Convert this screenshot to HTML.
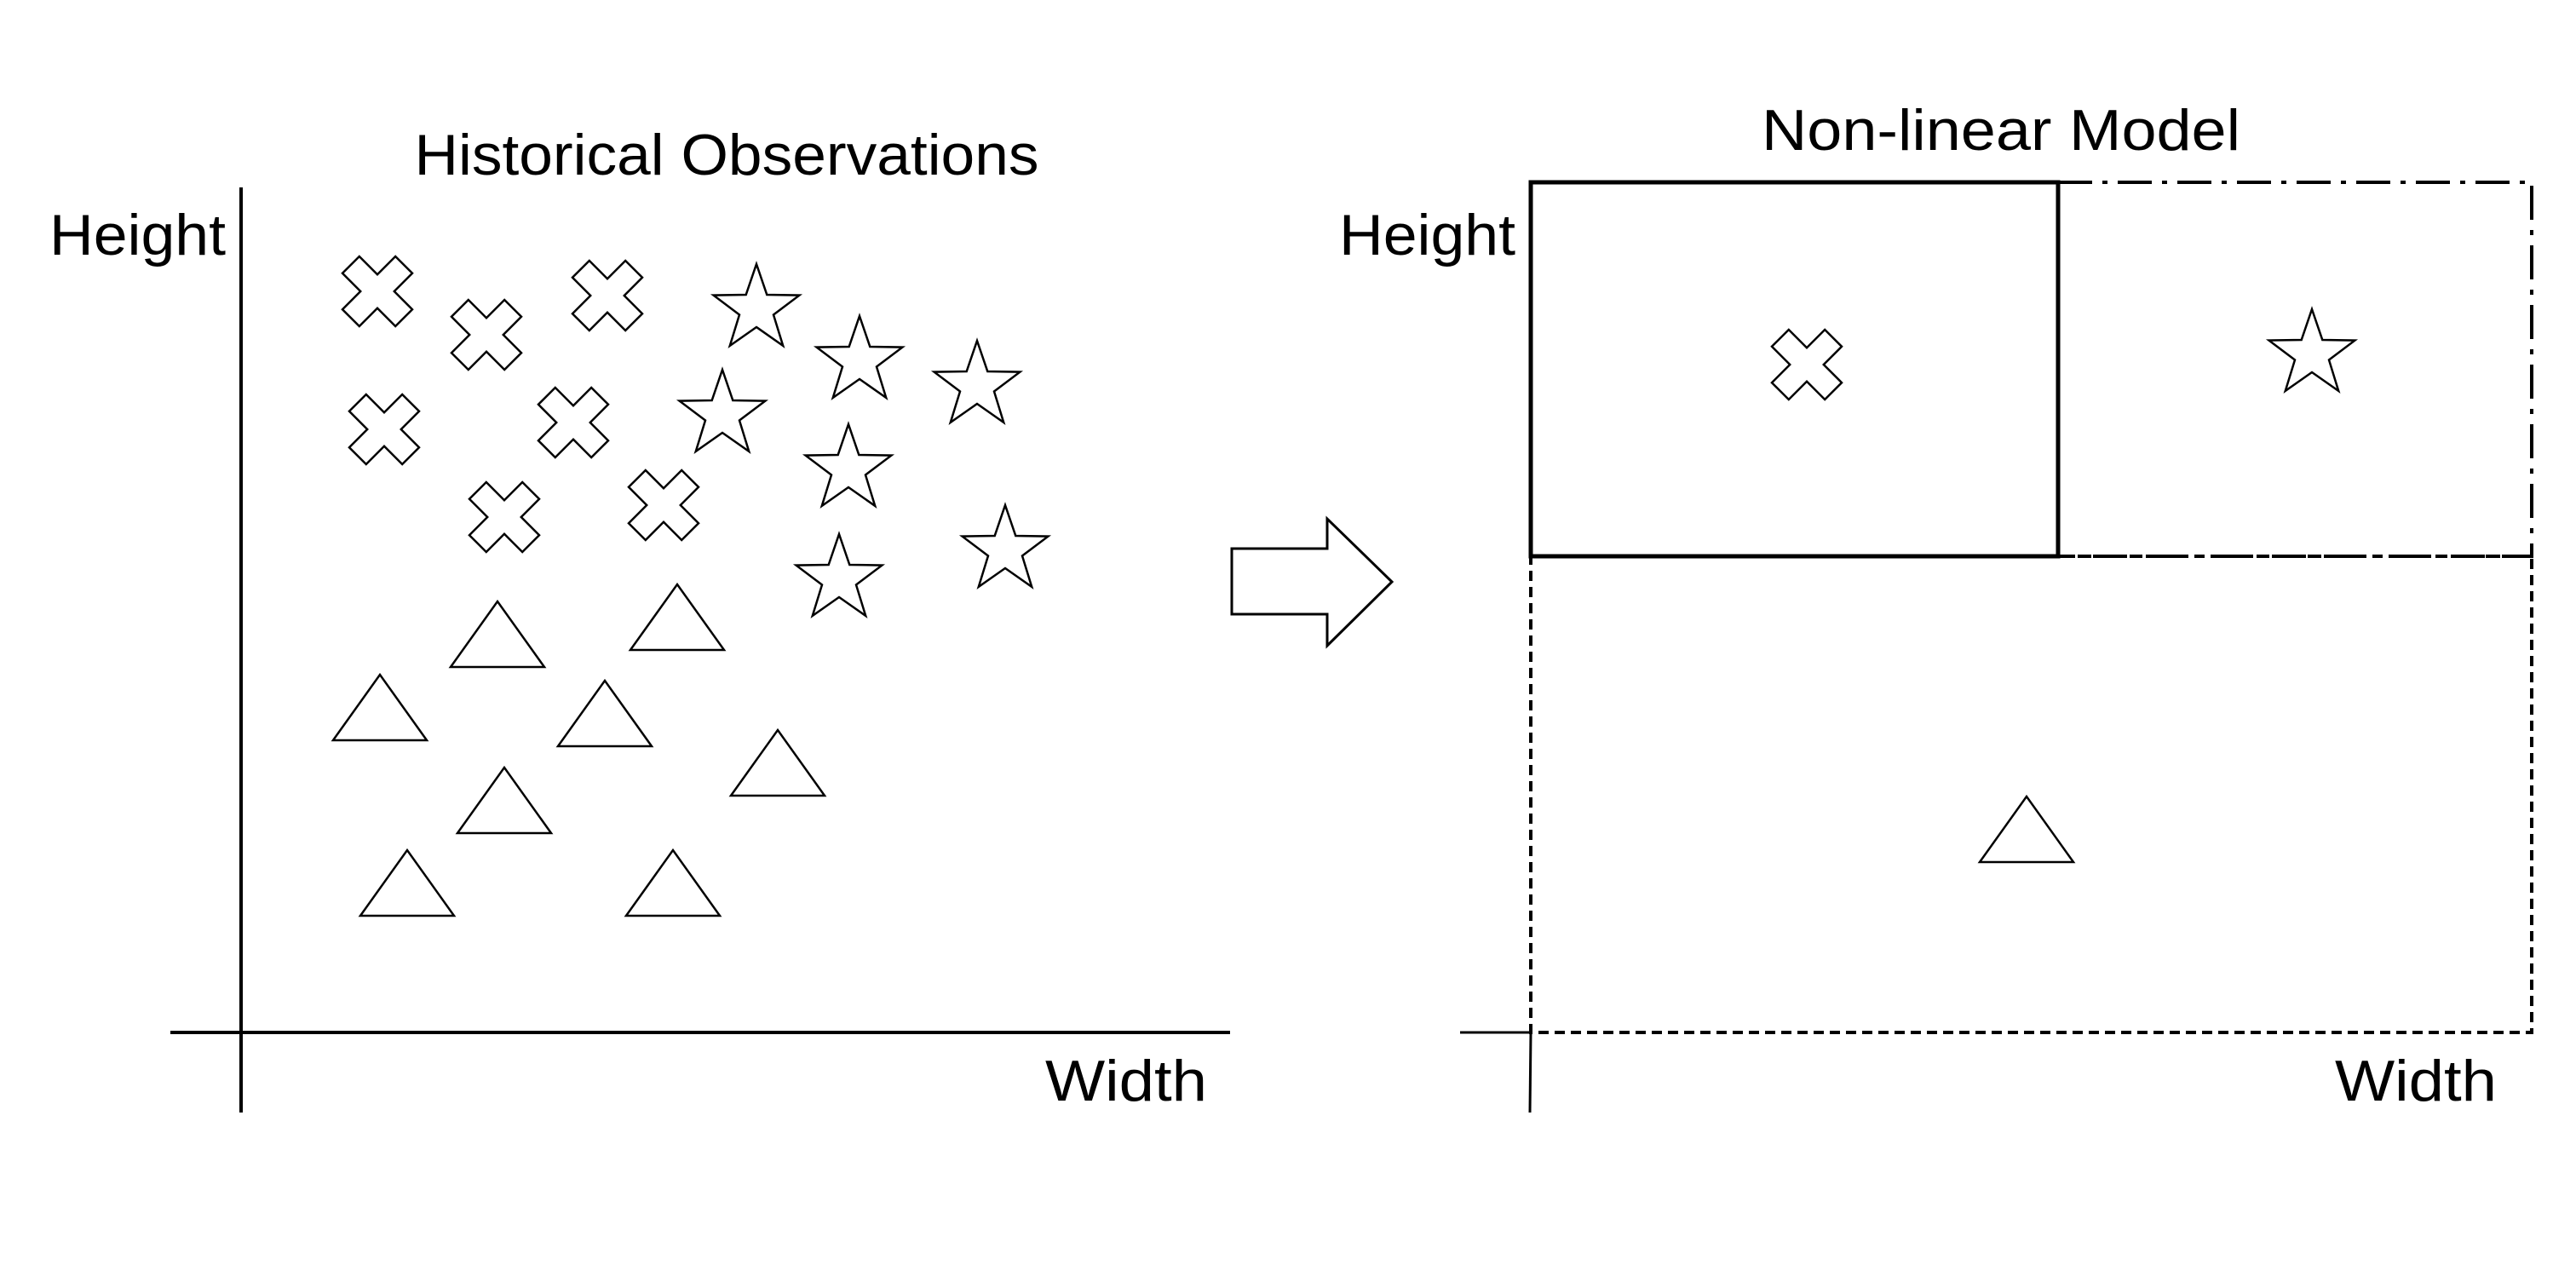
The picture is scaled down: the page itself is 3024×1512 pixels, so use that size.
<!DOCTYPE html>
<html><head><meta charset="utf-8"><style>
html,body{margin:0;padding:0;background:#fff}
svg{display:block}
text{font-family:"Liberation Sans",sans-serif;fill:#000}
</style></head><body>
<svg id="fig" width="3024" height="1512" viewBox="0 0 3024 1512" xmlns="http://www.w3.org/2000/svg">
<g>
<text x="853" y="205" font-size="68" text-anchor="middle" textLength="733" lengthAdjust="spacingAndGlyphs">Historical Observations</text>
<text x="58" y="299" font-size="68" textLength="207" lengthAdjust="spacingAndGlyphs">Height</text>
<text x="1227" y="1292" font-size="68" textLength="190" lengthAdjust="spacingAndGlyphs">Width</text>
<line x1="283" y1="220" x2="283" y2="1306" stroke="#000" stroke-width="4"/>
<line x1="200" y1="1212" x2="1444" y2="1212" stroke="#000" stroke-width="4"/>
<g id="marks"></g>
</g>
<polygon points="1446,644 1558,644 1558,609 1634,683 1558,758 1558,721 1446,721" fill="#fff" stroke="#000" stroke-width="3"/>
<g>
<text x="2349" y="176" font-size="68" text-anchor="middle" textLength="562" lengthAdjust="spacingAndGlyphs">Non-linear Model</text>
<text x="1572" y="299" font-size="68" textLength="207" lengthAdjust="spacingAndGlyphs">Height</text>
<text x="2741" y="1292" font-size="68" textLength="190" lengthAdjust="spacingAndGlyphs">Width</text>
<line x1="1714" y1="1212" x2="1797" y2="1212" stroke="#000" stroke-width="3"/>
<line x1="1797" y1="1212" x2="1796" y2="1306" stroke="#000" stroke-width="3"/>
<rect x="1797" y="653" width="1175" height="559" fill="none" stroke="#000" stroke-width="4" stroke-dasharray="12,7"/>
<rect x="2416" y="214" width="556" height="439" fill="none" stroke="#000" stroke-width="4" stroke-dasharray="40,12,6,12"/>
<rect x="1797" y="214" width="619" height="439" fill="none" stroke="#000" stroke-width="5"/>
<g id="rmarks"></g>
</g>
</svg>
<script>
const crossX=[443,571,713,451,673,592,779];
const crossY=[342,393,347,504,496,607,593];
const starX=[888,1009,1147,848,996,985,1180];
const starY=[363,424,453,487,551,680,646];
const triX=[584,795,446,710,913,592,478,790];
const triY=[783,763,869,876,934,978,1075,1075];
const NS="http://www.w3.org/2000/svg";
function crossPts(cx,cy){const L=44,w=14,pts=[[w,w],[L,w],[L,-w],[w,-w],[w,-L],[-w,-L],[-w,-w],[-L,-w],[-L,w],[-w,w],[-w,L],[w,L]];const c=Math.SQRT1_2;return pts.map(p=>[(cx+(p[0]-p[1])*c).toFixed(1),(cy+(p[0]+p[1])*c).toFixed(1)].join(',')).join(' ');}
function starPts(cx,cy){const R=53,r=21,out=[];for(let i=0;i<10;i++){const a=-Math.PI/2+i*Math.PI/5,rr=i%2?r:R;out.push((cx+rr*Math.cos(a)).toFixed(1)+','+(cy+rr*Math.sin(a)).toFixed(1));}return out.join(' ');}
function triPts(cx,by){return `${cx-55},${by} ${cx+55},${by} ${cx},${by-77}`;}
function add(g,pts,name){const p=document.createElementNS(NS,'polygon');p.setAttribute('points',pts);p.setAttribute('fill','#fff');p.setAttribute('stroke','#000');p.setAttribute('stroke-width','2.5');


g.appendChild(p);}
const g=document.getElementById('marks');
crossX.forEach((x,i)=>add(g,crossPts(x,crossY[i]),'cross-point'));
starX.forEach((x,i)=>add(g,starPts(x,starY[i]),'star-point'));
triX.forEach((x,i)=>add(g,triPts(x,triY[i]),'triangle-point'));
const rg=document.getElementById('rmarks');
add(rg,crossPts(2121,428),'cross-region-symbol');
add(rg,starPts(2714,416),'star-region-symbol');
add(rg,triPts(2379,1012),'triangle-region-symbol');
</script>
</body></html>
